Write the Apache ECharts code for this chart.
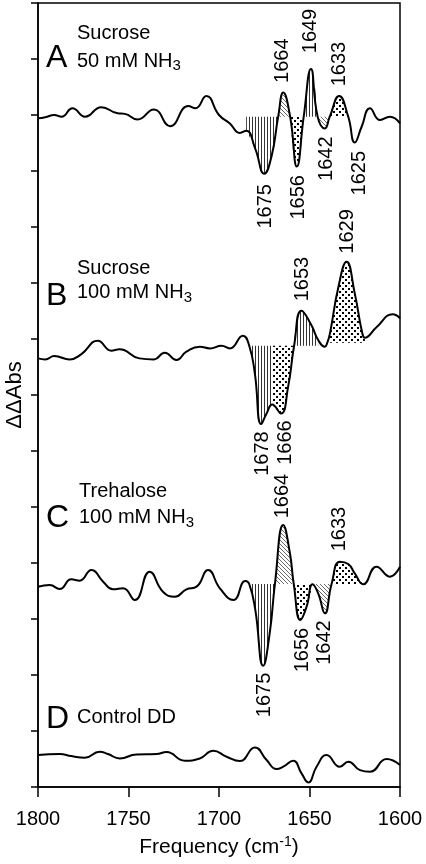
<!DOCTYPE html>
<html><head><meta charset="utf-8">
<script src="https://cdn.jsdelivr.net/npm/echarts@6/dist/echarts.min.js"></script>
<style>html,body{margin:0;padding:0;background:#fff}#c{width:426px;height:864px}</style>
</head><body><div id="c"></div>
<script>
// ---- data (ΔΔAbs, arbitrary units = one y tick) ----
const xTicks = [1800, 1750, 1700, 1650, 1600];

const freqA = [1800,1796,1791,1787,1781,1774,1765,1756,1752,1745,1736,1727,1717,1713,1707,1700,1694,1688.5,1685,1680,1675,1671,1667.3,1664.5,1660.7,1657,1653.2,1649.2,1645.5,1641.5,1638.8,1633.6,1628.6,1625,1621.2,1616.6,1611,1605.6,1600];
const valA  = [-0.03,-0.01,0.03,0,0.15,0,0.17,0.06,0.05,-0.05,0.13,-0.17,0.19,0.15,0.37,0.03,-0.12,-0.29,-0.25,-0.57,-1.02,-0.71,0,0.43,0,-0.89,0,0.85,0,-0.21,0,0.37,0,-0.46,-0.18,0.15,-0.06,0,-0.12];

const freqB = [1800,1796,1791,1782.5,1776,1767,1759.5,1755,1744,1736,1730,1723.5,1718,1710.6,1705,1698.6,1694,1686.8,1683.3,1680.2,1676.7,1673.7,1670.6,1665.8,1661.8,1658.5,1654.4,1649,1645.2,1641.5,1640.2,1638.7,1634,1629.5,1625,1621,1619.4,1613,1604,1600];
const valB  = [-0.226,-0.244,-0.185,-0.244,-0.149,0.089,-0.089,-0.065,-0.226,-0.244,-0.125,-0.256,-0.107,-0.018,-0.048,0,-0.048,0.18,0,-0.494,-1.40,-1.21,-1.05,-1.21,-0.73,0,0.625,0.369,0.101,-0.018,0.05,0.22,1.054,1.50,0.935,0.25,0.143,0.33,0.56,0.49];

const freqC = [1800,1793.5,1788,1781.6,1777,1770.5,1764,1758.5,1753,1746.5,1738.3,1731,1724.4,1718,1712.4,1706,1699.5,1692,1685.5,1683.3,1680,1675.6,1672,1669.1,1664.5,1660.8,1658.7,1655,1651.6,1648.3,1645.2,1641.5,1637.8,1633.2,1628.6,1625,1620.3,1613,1605.6,1600];
const valC  = [-0.048,-0.018,-0.089,0.083,0.06,0.25,0.042,-0.095,-0.077,-0.286,0.22,-0.137,-0.226,-0.095,-0.048,0.25,-0.077,-0.286,0.054,0,-0.45,-1.46,-0.88,0,1.054,0.548,0,-0.643,-0.405,-0.006,-0.167,-0.524,0,0.399,0.357,0.19,-0.006,0.31,0.131,0.31];

const freqD = [1800,1788,1781.6,1774.2,1765.9,1761.3,1754.8,1745.6,1734.6,1729,1718.9,1710.6,1703.2,1695.8,1688.5,1680.2,1673.7,1668.2,1664.5,1659,1654.4,1650.7,1646.1,1640.6,1633.2,1628.6,1622.1,1616.6,1607.4,1600];
const valD  = [0,0.018,-0.018,-0.048,0.06,0.018,-0.06,0.012,0.018,0.054,-0.101,-0.06,0.077,-0.03,-0.107,0.137,-0.089,-0.25,-0.208,-0.101,-0.327,-0.488,-0.208,0,-0.208,-0.119,-0.268,-0.298,-0.071,-0.179];

// vertical offsets of the stacked traces (in y-tick units)
const offA = 11.97, offB = 7.88, offC = 3.625, offD = 0.57;

// hatched regions: [from freq, to freq, pattern, baseline shift]
const fillsA = [[1685,1667.3,'v',0],[1667.3,1660.7,'d',0],[1660.7,1653.2,'o',0],[1653.2,1645.5,'v',0],[1645.5,1638.8,'d',0],[1638.8,1628.6,'o',0]];
const fillsB = [[1683.3,1670.6,'v',0],[1670.6,1658.5,'o',0],[1658.5,1645.2,'v',0],[1640.2,1619.4,'o',0.054]];
const fillsC = [[1683.3,1669.1,'v',0],[1669.1,1658.7,'d',0],[1658.7,1648.3,'o',0],[1648.3,1637.8,'d',0],[1637.8,1620.3,'o',0]];

// peak labels: text, freq of label centre, y of label centre (tick units)
const peakText = ['1664','1649','1633','1675','1656','1642','1625','1629','1653','1678','1666','1664','1633','1675','1656','1642'];
const peakFreq = [1665.2,1649.3,1633.6,1674.4,1656.1,1640.6,1622.4,1629.0,1653.9,1676.0,1663.3,1665.2,1633.5,1674.9,1653.9,1641.7];
const peakY    = [12.97,13.50,12.91,10.37,10.53,11.22,10.96,9.92,9.07,5.955,6.15,5.196,4.607,1.643,2.446,2.58];

// ---- patterns ----
function makePattern(kind){
  const c = document.createElement('canvas');
  const ctx = c.getContext('2d');
  if (kind === 'v') {
    c.width = 3; c.height = 4;
    ctx.fillStyle = '#333'; ctx.fillRect(0,0,1,4);
  } else if (kind === 'o') {
    c.width = 6; c.height = 6;
    ctx.fillStyle = '#000';
    ctx.fillRect(0,0,2,2); ctx.fillRect(3,3,2,2);
  } else {
    c.width = 4; c.height = 4;
    ctx.strokeStyle = '#444'; ctx.lineWidth = 0.8;
    ctx.beginPath(); ctx.moveTo(0,0); ctx.lineTo(4,4);
    ctx.moveTo(-1,3); ctx.lineTo(1,5); ctx.moveTo(3,-1); ctx.lineTo(5,1); ctx.stroke();
  }
  return c;
}
const pats = {v: makePattern('v'), o: makePattern('o'), d: makePattern('d')};
const SM = 0.5;
const FONT = '"Liberation Sans", Arial, sans-serif';

function curve(freqs, vals, off){
  return {type:'line', data: freqs.map((f,i)=>[f, off+vals[i]]), smooth: SM, symbol:'none',
    lineStyle:{color:'#000', width:2}, z:3, silent:true, animation:false};
}
function fills(freqs, vals, off, defs){
  return defs.map(d => {
    const data = [];
    for (let i=0;i<freqs.length;i++){
      if (freqs[i] <= d[0]+1e-6 && freqs[i] >= d[1]-1e-6) data.push([freqs[i], off+vals[i]]);
    }
    return {type:'line', data, smooth: SM, symbol:'none', lineStyle:{width:0, opacity:0},
      areaStyle:{color:{image: pats[d[2]], repeat:'repeat'}, origin: off+d[3], opacity:1},
      z:1, silent:true, animation:false};
  });
}

const series = [
  ...fills(freqA, valA, offA, fillsA),
  ...fills(freqB, valB, offB, fillsB),
  ...fills(freqC, valC, offC, fillsC),
  curve(freqA, valA, offA), curve(freqB, valB, offB), curve(freqC, valC, offC), curve(freqD, valD, offD),
  {type:'scatter', data: peakText.map((t,i)=>[peakFreq[i], peakY[i], t]), symbolSize: 2,
   itemStyle:{color:'rgba(0,0,0,0)'}, silent:true, animation:false, z:4,
   labelLayout:{hideOverlap:false},
   label:{show:true, position:'inside', rotate:90, formatter: p=>p.data[2], color:'#000', opacity:1,
          fontSize:20, fontFamily: FONT, align:'center', verticalAlign:'middle'}}
];

function txt(x, y, text, size, rich){
  return {type:'text', x, y, silent:true, style:{text, fill:'#000', font: size+'px '+FONT,
    verticalAlign:'middle', align:'left', rich: rich}};
}
const subRich = {sub:{fontSize:15, padding:[10,0,0,0]}};

const chart = echarts.init(document.getElementById('c'), null, {renderer:'canvas'});
chart.setOption({
  animation:false,
  backgroundColor:'#fff',
  grid:{left:38, right:26, top:3, bottom:77, show:true, borderColor:'#000', borderWidth:1.5, containLabel:false, outerBoundsMode:'none'},
  xAxis:{type:'value', min:1600, max:1800, interval:50, inverse:true,
    axisLine:{lineStyle:{color:'#000', width:1.5}},
    axisTick:{length:10, lineStyle:{color:'#000', width:1.5}},
    axisLabel:{fontSize:20, color:'#000', fontFamily:FONT, margin:22, formatter: v => xTicks.includes(v) ? String(v) : ''},
    splitLine:{show:false},
    name:'Frequency (cm{sup|-1})', nameLocation:'middle', nameGap:48,
    nameTextStyle:{fontSize:21, color:'#000', fontFamily:FONT, rich:{sup:{fontSize:14, fontFamily:FONT, padding:[0,0,10,0]}}}
  },
  yAxis:{type:'value', min:0, max:14, interval:1,
    axisLine:{show:true, lineStyle:{color:'#000', width:1.5}},
    axisTick:{show:true, length:7, lineStyle:{color:'#000', width:1.5}},
    axisLabel:{show:false}, splitLine:{show:false},
    name:'ΔΔAbs', nameLocation:'middle', nameGap:12,
    nameTextStyle:{fontSize:22, color:'#000', fontFamily:FONT}
  },
  graphic:[
    txt(46, 58, 'A', 32),
    txt(77, 33.5, 'Sucrose', 20),
    txt(77, 61, '50 mM NH{sub|3}', 20, subRich),
    txt(46, 296, 'B', 32),
    txt(77, 268.5, 'Sucrose', 20),
    txt(77, 292.5, '100 mM NH{sub|3}', 20, subRich),
    txt(46, 518.5, 'C', 32),
    txt(79, 491, 'Trehalose', 20),
    txt(79, 517.5, '100 mM NH{sub|3}', 20, subRich),
    txt(46, 719.5, 'D', 32),
    txt(77, 717.5, 'Control DD', 20)
  ],
  series
});
</script></body></html>
